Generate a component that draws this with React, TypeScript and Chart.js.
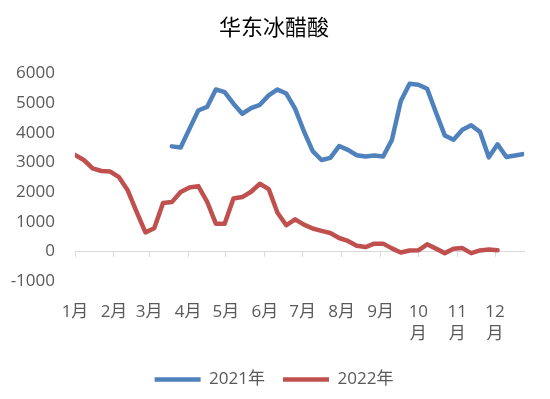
import { useEffect, useRef } from 'react';
import { Chart, registerables } from 'chart.js';

Chart.register(...registerables);

const chartTitle = '华东冰醋酸';
const seriesNames = ['2021年', '2022年'];
const monthLabels = ['1月', '2月', '3月', '4月', '5月', '6月', '7月', '8月', '9月', '10月', '11月', '12月'];
const monthStartDays = [0, 31, 59, 90, 120, 151, 181, 212, 243, 273, 304, 334];

// weekly values, week index 0..51
const values2021: (number | null)[] = [
  null, null, null, null, null, null, null, null, null, null, null,
  3540, 3500, 4130, 4750, 4870, 5460, 5370, 4980, 4640, 4830,
  4940, 5260, 5460, 5320, 4810, 4050, 3380, 3080, 3150, 3550,
  3420, 3240, 3200, 3230, 3200, 3760, 5060, 5650, 5620, 5480,
  4680, 3910, 3760, 4100, 4250, 4030, 3170, 3610, 3180, 3230,
  3280,
];
const values2022: number[] = [
  3250, 3080, 2800, 2710, 2690, 2500, 2050, 1330, 640, 780,
  1630, 1660, 2000, 2150, 2200, 1680, 934, 934, 1780, 1830,
  2010, 2280, 2100, 1300, 880, 1080, 900, 770, 690, 620,
  450, 350, 190, 145, 260, 260, 100, -40, 30, 35,
  236, 91, -60, 90, 110, -60, 30, 65, 40,
];

const FONT = '"Open Sans", "Noto Sans CJK SC", sans-serif';
const TEXT = '#595959';

export default function App() {
  const ref = useRef<HTMLCanvasElement>(null);
  useEffect(() => {
    if (!ref.current) return;
    const toPoints = (arr: (number | null)[]) => arr.map((y, i) => ({ x: i, y }));
    const setTicks = (scale: any) => {
      scale.ticks = monthStartDays.map((d) => ({ value: d / 7 }));
    };
    const chart = new Chart(ref.current, {
      type: 'line',
      data: {
        datasets: [
          {
            label: seriesNames[0],
            data: toPoints(values2021) as any,
            borderColor: '#4F81BD',
            backgroundColor: '#4F81BD',
            borderWidth: 4.5,
            pointRadius: 0,
            borderJoinStyle: 'round',
            borderCapStyle: 'round',
            tension: 0,
          },
          {
            label: seriesNames[1],
            data: toPoints(values2022) as any,
            borderColor: '#C0504D',
            backgroundColor: '#C0504D',
            borderWidth: 4.5,
            pointRadius: 0,
            borderJoinStyle: 'round',
            borderCapStyle: 'round',
            tension: 0,
          },
        ],
      },
      options: {
        animation: false,
        responsive: false,
        maintainAspectRatio: false,
        layout: { padding: { left: 24, right: 26, top: 0, bottom: 1 } },
        scales: {
          x: {
            type: 'linear',
            min: 0,
            max: 51,
            afterBuildTicks: setTicks,
            afterFit: (s: any) => {
              s.height = 72;
            },
            grid: { display: false, drawTicks: false },
            border: { display: false },
            ticks: {
              autoSkip: false,
              maxRotation: 0,
              padding: 20,
              color: TEXT,
              font: { family: FONT, size: 17, lineHeight: 1.3 },
              callback: (_v: any, i: number) => {
                const s = monthLabels[i];
                return s.length > 2 ? [s.slice(0, -1), s.slice(-1)] : s;
              },
            },
          },
          x2: {
            type: 'linear',
            axis: 'x',
            position: { y: 0 },
            min: 0,
            max: 51,
            afterBuildTicks: setTicks,
            grid: { display: true, drawOnChartArea: false, drawTicks: true, tickLength: 5, color: '#D9D9D9' },
            border: { display: true, color: '#D9D9D9' },
            ticks: { display: false },
          } as any,
          y: {
            min: -1000,
            max: 6000,
            afterFit: (s: any) => {
              s.width = 51;
              s._computeLabelArea = () => undefined;
            },
            grid: { display: false, drawTicks: false },
            border: { display: false },
            ticks: {
              stepSize: 1000,
              padding: 20,
              color: TEXT,
              font: { family: FONT, size: 17 },
              callback: (v: any) => String(v),
            },
          },
        },
        plugins: {
          title: {
            display: true,
            text: chartTitle,
            color: '#000',
            font: { family: FONT, size: 22, weight: 'normal', lineHeight: 1.2 },
            padding: { top: 16, bottom: 31 },
          },
          legend: {
            position: 'bottom',
            labels: {
              usePointStyle: true,
              pointStyle: 'line',
              pointStyleWidth: 46,
              color: TEXT,
              font: { family: FONT, size: 17 },
              padding: 18,
            },
          },
          tooltip: { enabled: false },
        },
      } as any,
    });
    return () => chart.destroy();
  }, []);
  return (
    <div style={{ position: 'fixed', left: 0, top: 0, width: 550, height: 399, background: '#fff' }}>
      <canvas ref={ref} width={550} height={399} style={{ display: 'block', width: 550, height: 399 }} />
    </div>
  );
}
